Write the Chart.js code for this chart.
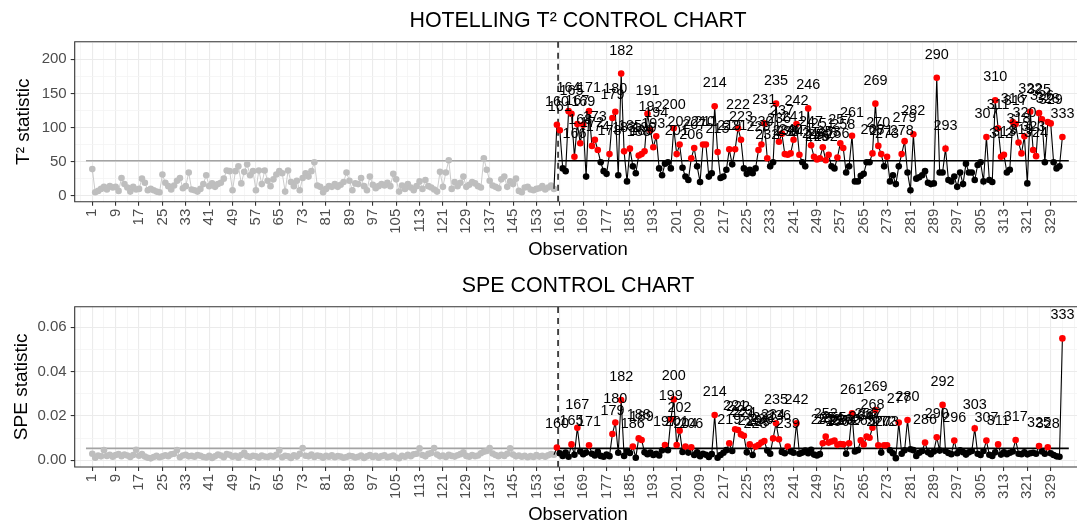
<!DOCTYPE html>
<html><head><meta charset="utf-8">
<script src="https://cdn.jsdelivr.net/npm/chart.js@4.4.1/dist/chart.umd.min.js"></script>
<style>
html,body{margin:0;padding:0;overflow:hidden;background:#fff;width:1077px;height:525px;}
canvas{position:absolute;left:0;}
</style></head><body>
<canvas id="t2" width="1077" height="262" style="top:0px"></canvas>
<canvas id="spe" width="1077" height="263" style="top:262px"></canvas>
<script>
// ---------------- DATA ----------------
const PHASE1_START = 1;     // observations 1..159 (phase I)
const PHASE2_START = 160;   // observations 160..333 (phase II)
const PHASE_SPLIT = 160.4;  // dashed separator

const xTickLabels = [1,9,17,25,33,41,49,57,65,73,81,89,97,105,113,121,129,137,145,153,161,169,177,185,193,201,209,217,225,233,241,249,257,265,273,281,289,297,305,313,321,329];

const t2Ticks = [0,50,100,150,200];
const t2Limit = 51.3;
const t2Phase1 = [39,5,7,10,13,9,14,12,13,7, 26,17,12,6,13,9,10,25,19,8, 10,8,6,5,31,19,14,9,15,22,
  26,11,14,34,9,8,6,10,17,30, 14,18,13,17,19,25,37,36,8,36, 43,18,35,46,30,36,8,37,17,37,
  22,14,24,31,36,33,6,37,20,14, 22,8,26,33,28,36,49,15,13,5, 10,14,13,17,13,16,20,34,22,8,
  18,17,26,14,8,28,16,11,14,17, 15,19,14,32,24,6,15,10,17,12, 8,14,21,10,23,14,12,9,6,35,
  13,34,52,10,20,14,19,28,13,16, 20,18,14,12,55,38,22,15,13,11, 24,28,13,21,17,25,7,5,12,13,
  9,8,10,11,14,9,12,15,10];
const t2Phase2 = [104,96,40,36,124,120,57,105,77,104, 28,124,73,82,67,49,36,32,61,114,
  123,30,179,65,21,69,43,33,59,61, 65,120,96,71,87,40,30,47,49,40, 99,61,75,41,28,23,55,70,43,20,
  75,75,28,33,131,64,26,28,38,68, 46,68,99,82,40,32,38,33,40,67, 75,106,55,43,49,135,79,91,61,60,
  62,82,105,60,49,43,128,74,57,53, 55,71,52,60,43,40,56,77,70,34, 43,88,21,21,29,32,49,49,62,135,
  73,61,43,57,21,30,17,43,61,80, 34,8,90,25,27,30,36,19,17,18, 173,34,34,69,23,21,28,13,34,17,
  47,34,34,23,45,49,21,86,23,20, 140,99,57,60,34,38,108,105,78,62, 87,18,123,67,58,121,112,49,108,106,
  49,40,43,86];

const speTicks = [0,0.02,0.04,0.06];
const speLimit = 0.0054;
const spePhase1 = [0.0030,0.0012,0.0022,0.0018,0.0046,0.0020,0.0025,0.0016,0.0024,0.0028,
  0.0019,0.0026,0.0022,0.0015,0.0024,0.0048,0.0021,0.0028,0.0017,0.0012,
  0.0009,0.0015,0.0020,0.0014,0.0018,0.0023,0.0019,0.0027,0.0030,0.0047,
  0.0014,0.0022,0.0025,0.0018,0.0020,0.0016,0.0024,0.0021,0.0015,0.0013,
  0.0020,0.0011,0.0018,0.0026,0.0022,0.0014,0.0028,0.0025,0.0016,0.0020,
  0.0012,0.0024,0.0034,0.0019,0.0015,0.0021,0.0018,0.0013,0.0022,0.0017,
  0.0015,0.0020,0.0016,0.0025,0.0046,0.0014,0.0020,0.0018,0.0011,0.0023,
  0.0017,0.0029,0.0056,0.0021,0.0018,0.0026,0.0015,0.0022,0.0019,0.0012,
  0.0020,0.0016,0.0023,0.0014,0.0019,0.0017,0.0012,0.0015,0.0021,0.0018,
  0.0013,0.0016,0.0022,0.0011,0.0018,0.0024,0.0015,0.0020,0.0012,0.0019,
  0.0023,0.0014,0.0017,0.0022,0.0013,0.0010,0.0021,0.0016,0.0025,0.0019,
  0.0027,0.0030,0.0054,0.0024,0.0018,0.0029,0.0033,0.0056,0.0026,0.0018,
  0.0022,0.0015,0.0025,0.0020,0.0017,0.0023,0.0028,0.0036,0.0020,0.0016,
  0.0024,0.0019,0.0022,0.0032,0.0039,0.0042,0.0056,0.0031,0.0024,0.0019,
  0.0025,0.0020,0.0030,0.0054,0.0026,0.0018,0.0022,0.0016,0.0020,0.0014,
  0.0019,0.0015,0.0024,0.0017,0.0021,0.0016,0.0023,0.0028,0.0025];
const spePhase2 = [0.0058,0.0032,0.0020,0.0035,0.0016,0.0072,0.0025,0.0147,0.0040,0.0028,
  0.0035,0.0068,0.0030,0.0022,0.0038,0.0020,0.0016,0.0026,0.0019,0.0119,
  0.0171,0.0034,0.0272,0.0020,0.0042,0.0033,0.0062,0.0012,0.0099,0.0092,
  0.0036,0.0028,0.0035,0.0024,0.0030,0.0022,0.0045,0.0069,0.0046,0.0185,
  0.0275,0.0069,0.0134,0.0038,0.0062,0.0035,0.0059,0.0024,0.0036,0.0019,
  0.0030,0.0025,0.0015,0.0028,0.0204,0.0012,0.0024,0.0034,0.0046,0.0077,
  0.0042,0.0140,0.0137,0.0117,0.0111,0.0036,0.0072,0.0024,0.0062,0.0069,
  0.0080,0.0087,0.0044,0.0030,0.0099,0.0167,0.0095,0.0038,0.0032,0.0062,
  0.0040,0.0034,0.0167,0.0030,0.0035,0.0044,0.0032,0.0048,0.0026,0.0022,
  0.0028,0.0077,0.0107,0.0080,0.0085,0.0089,0.0070,0.0074,0.0072,0.0030,
  0.0077,0.0212,0.0040,0.0046,0.0090,0.0072,0.0107,0.0102,0.0147,0.0227,
  0.0068,0.0035,0.0068,0.0068,0.0045,0.0032,0.0010,0.0171,0.0030,0.0045,
  0.0182,0.0050,0.0046,0.0020,0.0034,0.0042,0.0080,0.0036,0.0028,0.0040,
  0.0104,0.0044,0.0250,0.0042,0.0033,0.0028,0.0089,0.0032,0.0045,0.0037,
  0.0026,0.0036,0.0042,0.0144,0.0030,0.0024,0.0042,0.0089,0.0025,0.0020,
  0.0036,0.0072,0.0026,0.0036,0.0028,0.0034,0.0040,0.0092,0.0030,0.0028,
  0.0036,0.0027,0.0032,0.0034,0.0030,0.0065,0.0040,0.0030,0.0059,0.0032,
  0.0024,0.0018,0.0016,0.0550];

// ---------------- RENDERING ----------------
const FONT = "'Liberation Sans', Arial, Helvetica, sans-serif";
// visible part of the panel: it continues a few pixels past the window edge
const X_MIN = -5.02, X_MAX = 338.0;
const PANEL_CENTER_PX = 578;
const LIMIT_SEG_GREY = [-1.16, PHASE_SPLIT];
const LIMIT_SEG_BLACK = [PHASE_SPLIT, 335.2];

function xGridValues() {
  const step = xTickLabels[1] - xTickLabels[0];
  const out = [];
  out.push(xTickLabels[0] - step / 2);
  xTickLabels.forEach(t => { out.push(t); out.push(t + step / 2); });
  out.push(xTickLabels[xTickLabels.length - 1] + step);
  return out.filter(v => v >= X_MIN && v <= X_MAX);
}
function isMajor(list, v) { return list.some(t => Math.abs(t - v) < 1e-9); }

function buildPanel(id, o) {
  const canvas = document.getElementById(id);
  const H = canvas.height;
  const p1 = o.phase1.map((v, i) => ({ x: PHASE1_START + i, y: v }));
  const p2 = [{ x: PHASE2_START - 1, y: o.phase1[o.phase1.length - 1] }]
    .concat(o.phase2.map((v, i) => ({ x: PHASE2_START + i, y: v })));
  const yStep = o.yTicks[1] - o.yTicks[0];
  const yGrid = [];
  for (let k = -1; k <= o.yTicks.length; k++) {
    const base = o.yTicks[0] + k * yStep;
    yGrid.push(base); yGrid.push(base + yStep / 2);
  }
  const yGridIn = yGrid.filter(v => v >= o.yMin && v <= o.yMax);

  const decor = {
    id: 'decor' + id,
    afterDatasetsDraw(chart) {
      const ctx = chart.ctx;
      const meta = chart.getDatasetMeta(0);
      ctx.save();
      ctx.fillStyle = '#000';
      ctx.font = '14.4px ' + FONT;
      ctx.textAlign = 'center';
      ctx.textBaseline = 'middle';
      meta.data.forEach((pt, i) => {
        const raw = p2[i];
        if (raw.x >= PHASE2_START && raw.y > o.limit) ctx.fillText(String(raw.x), pt.x, pt.y - 23);
      });
      ctx.restore();
    },
    afterDraw(chart) {
      const ctx = chart.ctx, a = chart.chartArea;
      ctx.save();
      ctx.strokeStyle = '#333333';
      ctx.lineWidth = 1.1;
      ctx.beginPath();
      ctx.moveTo(a.right + 5, a.top); ctx.lineTo(a.left, a.top);
      ctx.lineTo(a.left, a.bottom); ctx.lineTo(a.right + 5, a.bottom);
      ctx.stroke();
      ctx.fillStyle = '#000';
      ctx.textAlign = 'center';
      ctx.textBaseline = 'alphabetic';
      const cx = PANEL_CENTER_PX;
      ctx.font = '21.4px ' + FONT;
      ctx.fillText(o.title, cx, o.titleBaseline);
      ctx.font = '18.5px ' + FONT;
      ctx.fillText('Observation', cx, o.xTitleBaseline);
      ctx.translate(o.yTitleX, (a.top + a.bottom) / 2);
      ctx.rotate(-Math.PI / 2);
      ctx.font = '19px ' + FONT;
      ctx.fillText(o.yTitle, 0, 0);
      ctx.restore();
    }
  };

  return new Chart(canvas, {
    type: 'scatter',
    data: {
      datasets: [
        { data: p2, showLine: true, borderColor: '#000', borderWidth: 1.1,
          pointRadius: c => (c.raw && c.raw.x < PHASE2_START) ? 0 : 3.3,
          pointBackgroundColor: c => (c.raw && c.raw.y > o.limit) ? '#FF0000' : '#000000',
          pointBorderWidth: 0, order: 0 },
        { data: p1, showLine: true, borderColor: '#BEBEBE', borderWidth: 0.8,
          pointRadius: 3.3, pointBackgroundColor: '#BEBEBE', pointBorderWidth: 0, order: 1 },
        { data: [{ x: LIMIT_SEG_GREY[0], y: o.limit }, { x: LIMIT_SEG_GREY[1], y: o.limit }],
          showLine: true, borderColor: '#A3A3A3', borderWidth: 1.6, pointRadius: 0, order: 2 },
        { data: [{ x: LIMIT_SEG_BLACK[0], y: o.limit }, { x: LIMIT_SEG_BLACK[1], y: o.limit }],
          showLine: true, borderColor: '#000', borderWidth: 1.6, pointRadius: 0, order: 2 },
        { data: [{ x: PHASE_SPLIT, y: o.yMin }, { x: PHASE_SPLIT, y: o.yMax }],
          showLine: true, borderColor: '#000', borderWidth: 1.4, borderDash: [6, 5], pointRadius: 0, order: 3 }
      ]
    },
    options: {
      responsive: false, animation: false, devicePixelRatio: 1, events: [],
      layout: { autoPadding: false, padding: { left: 0, right: 0, top: o.areaTop, bottom: 0 } },
      plugins: { legend: { display: false }, tooltip: { enabled: false }, title: { display: false } },
      scales: {
        x: {
          type: 'linear', min: X_MIN, max: X_MAX,
          afterBuildTicks: s => { s.ticks = xGridValues().map(v => ({ value: v })); },
          afterFit: s => { s.height = H - o.areaBottom; s.paddingLeft = 0; s.paddingRight = 0; },
          ticks: { autoSkip: false, minRotation: 90, maxRotation: 90, padding: 3,
            color: '#4D4D4D', font: { family: FONT, size: 15 },
            callback: v => isMajor(xTickLabels, v) ? String(v) : '' },
          grid: {
            color: c => isMajor(xTickLabels, c.tick.value) ? '#EBEBEB' : '#F4F4F4',
            lineWidth: c => isMajor(xTickLabels, c.tick.value) ? 1.1 : 0.8,
            tickColor: c => isMajor(xTickLabels, c.tick.value) ? '#333333' : 'rgba(0,0,0,0)',
            tickLength: 4, tickWidth: 1.1
          },
          border: { display: false }
        },
        y: {
          type: 'linear', min: o.yMin, max: o.yMax,
          afterBuildTicks: s => { s.ticks = yGridIn.map(v => ({ value: v })); },
          afterFit: s => { s.width = 74.7; s.paddingTop = 0; s.paddingBottom = 0; },
          ticks: { autoSkip: false, padding: 4, color: '#4D4D4D', font: { family: FONT, size: 15 },
            callback: v => isMajor(o.yTicks, v) ? o.fmt(v) : '' },
          grid: {
            color: c => isMajor(o.yTicks, c.tick.value) ? '#EBEBEB' : '#F4F4F4',
            lineWidth: c => isMajor(o.yTicks, c.tick.value) ? 1.1 : 0.8,
            tickColor: c => isMajor(o.yTicks, c.tick.value) ? '#333333' : 'rgba(0,0,0,0)',
            tickLength: 4, tickWidth: 1.1
          },
          border: { display: false }
        }
      }
    },
    plugins: [decor]
  });
}

buildPanel('t2', {
  phase1: t2Phase1, phase2: t2Phase2, limit: t2Limit, yTicks: t2Ticks,
  yMin: -8.8, yMax: 225.8, fmt: v => String(Math.round(v)),
  areaTop: 41.7, areaBottom: 201.7, titleBaseline: 26.7, xTitleBaseline: 254.5, yTitleX: 28.5,
  title: 'HOTELLING T\u00B2 CONTROL CHART', yTitle: 'T\u00B2 statistic'
});
buildPanel('spe', {
  phase1: spePhase1, phase2: spePhase2, limit: speLimit, yTicks: speTicks,
  yMin: -0.0030, yMax: 0.0693, fmt: v => v.toFixed(2),
  areaTop: 44.7, areaBottom: 205, titleBaseline: 30.3, xTitleBaseline: 257.8, yTitleX: 26.8,
  title: 'SPE CONTROL CHART', yTitle: 'SPE statistic'
});
</script>
</body></html>
